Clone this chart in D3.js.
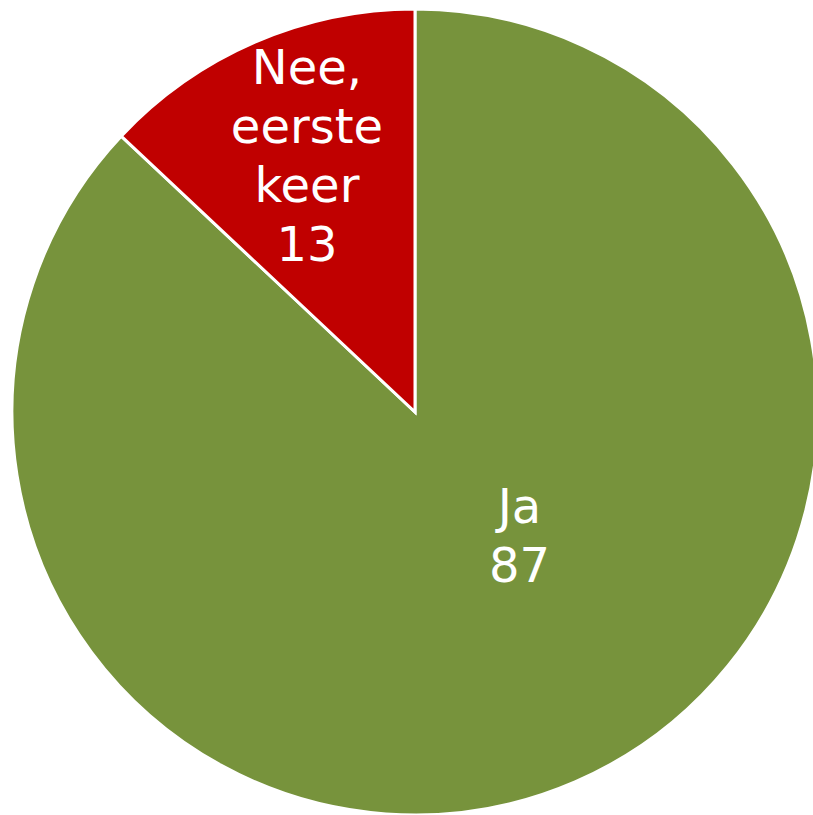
<!DOCTYPE html>
<html>
<head>
<meta charset="utf-8">
<script src="https://cdn.jsdelivr.net/npm/d3@7"></script>
<style>
  body { margin: 0; background: #fff; }
</style>
</head>
<body>
<div id="chart"></div>
<script>
var categories = ["Ja", "Nee, eerste keer"];
var values = [87, 13];
var colors = ["#77933C", "#C00000"];
var labelLines = [["Ja", "87"], ["Nee,", "eerste", "keer", "13"]];

var svgWidth = 813, svgHeight = 815;
var cx = 415, cy = 412, radius = 403;

var svg = d3.select("#chart").append("svg")
  .attr("width", svgWidth)
  .attr("height", svgHeight);

var g = svg.append("g")
  .attr("transform", `translate(${cx}, ${cy})`);

var pie = d3.pie().sort(null).value(d => d);
var arcs = pie(values);

var arc = d3.arc().innerRadius(0).outerRadius(radius);

g.selectAll("path")
  .data(arcs)
  .enter()
  .append("path")
  .attr("d", arc)
  .attr("fill", (d, i) => colors[i])
  .attr("stroke", "#fff")
  .attr("stroke-width", 3)
  .attr("stroke-linejoin", "miter");

// label placement: distance (fraction of radius) and angle shift, like the Excel labels
var labelDist = [0.40, 0.692];
var labelShift = [-17, 0.6]; // degrees
var lineH = 59, fontSize = 48;

arcs.forEach(function (d, i) {
  var a = (d.startAngle + d.endAngle) / 2 + labelShift[i] * Math.PI / 180;
  var r = radius * labelDist[i];
  var x = Math.sin(a) * r;
  var y = -Math.cos(a) * r;
  var lines = labelLines[i];
  var t = g.append("text")
    .attr("text-anchor", "middle")
    .attr("font-family", "Verdana, 'DejaVu Sans', sans-serif")
    .attr("font-size", fontSize)
    .attr("fill", "#fff");
  var firstBase = y - (lines.length - 1) * lineH / 2 + fontSize * 0.36;
  lines.forEach(function (ln, j) {
    t.append("tspan")
      .attr("x", x)
      .attr("y", firstBase + j * lineH)
      .text(ln);
  });
});
</script>
</body>
</html>
